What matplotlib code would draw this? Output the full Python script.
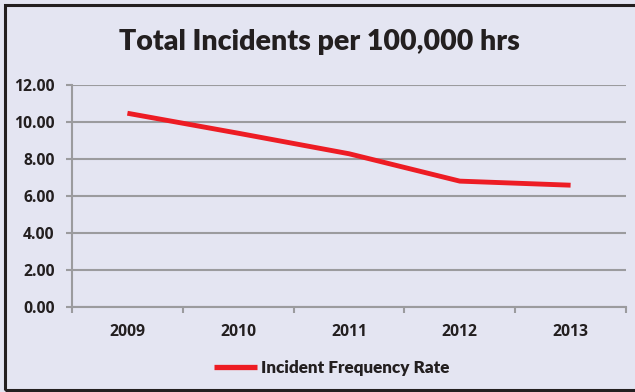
import matplotlib.pyplot as plt
from matplotlib.patches import Rectangle

years = ['2009', '2010', '2011', '2012', '2013']
rate = [10.49, 9.41, 8.30, 6.82, 6.60]
y_ticks = [0, 2, 4, 6, 8, 10, 12]

bg = '#E4E5F2'
ink = '#231F20'
grid = '#9B9B9E'
red = '#ED1C24'

W, H = 635, 392
fig = plt.figure(figsize=(W / 100, H / 100), dpi=100, facecolor=bg)
ax = fig.add_axes([72 / W, 1 - 307.3 / H, (626 - 72) / W, (307.3 - 85.3) / H])
ax.set_facecolor(bg)

x = list(range(len(years)))
line, = ax.plot(x, rate, color=red, lw=3.5, solid_capstyle='butt',
                label='Incident Frequency Rate', zorder=3)

ax.set_xlim(-0.5, len(years) - 0.5)
ax.set_ylim(0, 12)
ax.set_yticks(y_ticks)
ax.set_yticklabels([f'{v:.2f}' for v in y_ticks])
ax.set_xticks(x)
ax.set_xticklabels(years)
ax.set_xticks([i - 0.5 for i in range(len(years) + 1)], minor=True)

for lab in ax.get_yticklabels() + ax.get_xticklabels():
    lab.set_family('Open Sans')
    lab.set_weight('bold')
    lab.set_size(11.3)
    lab.set_color(ink)

ax.tick_params(axis='y', length=4.5, width=1.5, color=grid, pad=8)
ax.tick_params(axis='x', which='major', length=0, pad=12)
ax.tick_params(axis='x', which='minor', length=4.5, width=1.5, color=grid)

ax.grid(axis='y', color=grid, lw=1.5)
ax.set_axisbelow(True)
for s in ['top', 'right']:
    ax.spines[s].set_visible(False)
for s in ['left', 'bottom']:
    ax.spines[s].set_color(grid)
    ax.spines[s].set_linewidth(1.5)

fig.text(0.5 * (121.7 + 518) / W, 1 - 42 / H, 'Total Incidents per 100,000 hrs',
         ha='center', va='center', family='Lato',
         weight='heavy', size=20.5, color=ink)

leg = fig.legend(handles=[line], loc='center', bbox_to_anchor=(332 / W, 1 - 368 / H),
                 frameon=False, handlelength=2.5, handletextpad=0.25,
                 prop=dict(family='Lato', weight='heavy', size=12.3))
for t in leg.get_texts():
    t.set_color(ink)
leg.get_lines()[0].set_linewidth(3.8)

# outer frame
fig.patches.append(Rectangle((5 / W, 2 / H), 1.2, 1 - 7 / H, transform=fig.transFigure,
                             fill=False, edgecolor=ink, lw=2.2))

fig.savefig('out.png', dpi=100, facecolor=bg)
